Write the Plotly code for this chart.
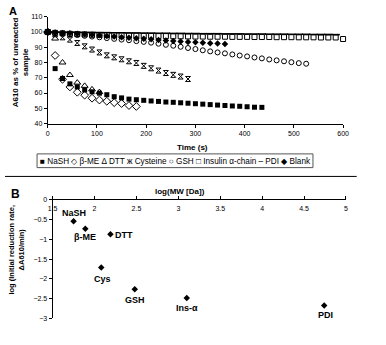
import plotly.graph_objects as go

W, H = 386, 345

# ---------------- Panel A data ----------------
TIME = [0, 15, 30, 45, 60, 75, 90, 105, 120, 135, 150, 165, 180, 195, 210, 225, 240, 255, 270, 285,
        300, 315, 330, 345, 360, 375, 390, 405, 420, 435, 450, 465, 480, 495, 510, 525, 540, 555,
        570, 585, 600]

nash = [100, 76, 69.5, 66, 64, 62, 60.8, 59.9, 58.9, 57.6, 56.8, 56, 55.6, 55.2, 54.8, 54.5, 54.1,
        53.9, 53.6, 53.3, 53, 52.7, 52.4, 52.1, 51.8, 51.5, 51.3, 51, 50.7, 50.6]
bme = [100, 84.6, 69, 64, 60.5, 58.6, 56.6, 55.4, 54.6, 53.7, 53.1, 51.8, 51.2]
dtt = [100, 95.7, 80, 71.8, 66.8, 64.7, 62.4, 60.6]
cysteine = [100, 98.5, 96.5, 95, 92.8, 90.6, 88.5, 86.6, 84.7, 83.4, 82.1, 80.8, 79.7, 77.8, 76.2,
            74.7, 73.1, 71.9, 70.8, 69.2]
gsh = [100, 99.5, 99, 98.5, 98, 97.5, 97, 96.5, 96, 95.5, 95, 94.6, 94, 93.5, 93, 92.3, 91.6, 91,
       90.3, 89.5, 88.8, 88, 87.3, 86.6, 86, 85.3, 84.6, 84, 83.3, 82.7, 82, 81.4, 80.8, 80.2, 79.6,
       79.2]
insulin = [100, 99.4, 99.1, 98.8, 98.6, 98.4, 98.2, 98.1, 98, 97.9, 97.8, 97.7, 97.6, 97.5, 97.4,
           97.3, 97.3, 97.2, 97.2, 97.1, 97, 97, 96.9, 96.9, 96.9, 96.8, 96.8, 96.8, 96.7, 96.7,
           96.7, 96.6, 96.6, 96.6, 96.5, 96.5, 96.5, 96.4, 96.4, 96.4, 95.4]
pdi = [100, 99.9, 99.9, 99.8, 99.8, 99.7, 99.7, 99.6, 99.6, 99.5, 99.5, 99.4, 99.4, 99.3, 99.3,
       99.2, 99.2, 99.1, 99.1, 99, 99, 98.9, 98.9, 98.9, 98.8, 98.8, 98.8, 98.7, 98.7, 98.7, 98.6,
       98.6, 98.6, 98.5, 98.5, 98.5, 98.4, 98.4, 98.4, 98.3]
blank = [100, 99.7, 99.4, 99.1, 98.8, 98.5, 98.2, 97.8, 97.4, 97, 96.6, 96.2, 95.9, 95.6, 95.2,
         94.8, 94.5, 94.1, 93.8, 93.5, 93.2, 92.9, 92.6, 92.4, 92.1]

series_names = ["NaSH", "β-ME", "DTT", "Cysteine", "GSH", "Insulin α-chain", "PDI", "Blank"]
legend_glyphs = ["■", "◇", "Δ", "ж", "○", "□", "–", "◆"]

# ---------------- Panel B data ----------------
b_labels = ["NaSH", "β-ME", "DTT", "Cys", "GSH", "Ins-α", "PDI"]
b_logmw = [1.75, 1.89, 2.19, 2.08, 2.48, 3.10, 4.74]
b_lograte = [-0.54, -0.73, -0.87, -1.71, -2.26, -2.48, -2.67]

FONT = "Liberation Sans, Arial, sans-serif"


def px(x):
    return x / W


def py(y):
    return 1 - y / H


fig = go.Figure()

styles = [
    dict(symbol="square", size=5, color="black"),
    dict(symbol="diamond-open", size=6, color="black", line=dict(width=1, color="black")),
    dict(symbol="triangle-up-open", size=6, color="black", line=dict(width=1, color="black")),
    dict(symbol="hourglass-open", size=5, color="black", line=dict(width=1, color="black")),
    dict(symbol="circle-open", size=5, color="black", line=dict(width=1, color="black")),
    dict(symbol="square-open", size=5, color="black", line=dict(width=1, color="black")),
    dict(symbol="line-ew", size=6, color="black", line=dict(width=1.5, color="black")),
    dict(symbol="diamond", size=5, color="black"),
]
all_series = [nash, bme, dtt, cysteine, gsh, insulin, pdi, blank]
# draw order so that filled markers lie on top
order = [5, 6, 4, 3, 2, 1, 7, 0]
for i in order:
    vals = all_series[i]
    fig.add_trace(go.Scatter(x=TIME[:len(vals)], y=vals, mode="markers", name=series_names[i],
                             marker=styles[i], xaxis="x", yaxis="y", showlegend=False,
                             cliponaxis=False))

fig.add_trace(go.Scatter(x=b_logmw, y=b_lograte, mode="markers",
                         marker=dict(symbol="diamond", size=5, color="black"),
                         xaxis="x2", yaxis="y2", showlegend=False))

tickfont = dict(family=FONT, size=7, color="black")
common = dict(showline=True, linecolor="black", linewidth=1, ticks="outside", ticklen=3,
              tickcolor="black", showgrid=False, zeroline=False, tickfont=tickfont)

fig.update_layout(
    width=W, height=H, margin=dict(l=0, r=0, t=0, b=0),
    paper_bgcolor="white", plot_bgcolor="white",
    xaxis=dict(domain=[px(44), px(348)], anchor="y", range=[0, 600], dtick=100, **common),
    yaxis=dict(domain=[py(122), py(13)], anchor="x", range=[40, 110], dtick=10, **common),
    xaxis2=dict(domain=[px(49), px(351)], anchor="y2", range=[1.5, 5], dtick=0.5, side="top",
                ticklabelposition="inside", ticklabeloverflow="allow", ticklabelstandoff=5,
                **common),
    yaxis2=dict(domain=[py(321), py(200)], anchor="x2", range=[-3, 0], dtick=0.5, **common),
)

ann = []
bold = dict(family=FONT, size=8, color="black")


def paper_ann(text, x, y, font, angle=0, xanchor="center", yanchor="middle"):
    return dict(text=text, x=px(x), y=py(y), xref="paper", yref="paper", xanchor=xanchor,
                yanchor=yanchor, textangle=angle, showarrow=False, font=font)


ann.append(paper_ann("<b>A</b>", 2, -1, dict(family=FONT, size=11, color="black"),
                     xanchor="left", yanchor="top"))
ann.append(paper_ann("<b>B</b>", 4, 185, dict(family=FONT, size=12, color="black"),
                     xanchor="left", yanchor="top"))
ann.append(paper_ann("<b>A610 as % of unreacted<br>sample</b>", 16, 60, bold, angle=-90))
ann.append(paper_ann("<b>Time (s)</b>", 193, 146, bold))
ann.append(paper_ann("<b>log(MW [Da])</b>", 180, 191, bold))
ann.append(paper_ann("<b>log (Initial reduction rate,<br>ΔA610/min)</b>", 12, 251,
                     dict(family=FONT, size=7.5, color="black"), angle=-90))

legend_text = " ".join(f"{g} {n}" for g, n in zip(legend_glyphs, series_names))
ann.append(paper_ann(legend_text, 175, 160.5, dict(family=FONT, size=8.2, color="black")))

# point labels in panel B: (dx, dy) in pixels relative to the point
label_offsets = [(0, -8), (0, 8), (14, 1), (1, 11), (0, 11), (0, 10), (1, 10)]
for lab, xv, yv, (dx, dy) in zip(b_labels, b_logmw, b_lograte, label_offsets):
    ann.append(dict(text=f"<b>{lab}</b>", x=xv, y=yv, xref="x2", yref="y2", showarrow=False,
                    xshift=dx, yshift=-dy, font=dict(family=FONT, size=9, color="black")))

fig.update_layout(annotations=ann)

fig.update_layout(shapes=[
    dict(type="rect", xref="paper", yref="paper", x0=px(33), x1=px(317), y0=py(167), y1=py(153),
         line=dict(color="#555", width=1)),
    dict(type="line", xref="paper", yref="paper", x0=px(0), x1=px(362), y0=py(176), y1=py(176),
         line=dict(color="black", width=1)),
])

fig.write_html("out.html")
